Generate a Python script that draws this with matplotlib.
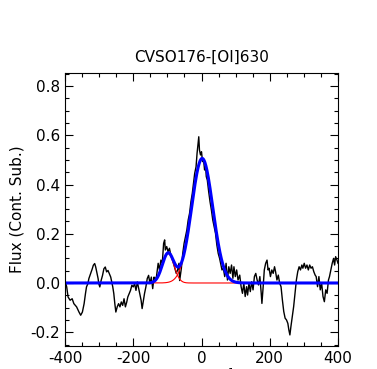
import numpy as np
import matplotlib
matplotlib.use("Agg")
import matplotlib.pyplot as plt
from matplotlib.ticker import MultipleLocator

plt.rcParams['axes.unicode_minus'] = False
plt.rcParams['font.family'] = ['DejaVu Sans']

velocity = [
    -400, -395, -391, -385, -379, -374, -366, -359, -354, -349, -344, -340, -337, -333, -330,
    -325, -320, -317, -313, -310, -307, -303, -301, -298, -294, -290, -286, -282, -278, -274,
    -270, -266, -263, -260, -257, -254, -251, -247, -243, -239, -235, -231, -227, -223, -219,
    -216, -212, -208, -204, -200, -196, -192, -188, -184, -180, -177, -174, -171, -167, -163,
    -159, -155, -151, -147, -143, -139,
    -137, -132, -127, -123, -119, -115, -111, -108, -106, -102, -98, -94, -90, -86, -82,
    -78, -74, -70, -66, -64, -59, -55, -51, -47, -43, -39, -35, -31, -27, -24, -20, -16,
    -13, -10, -8, -6, -3, 0, 3, 6, 9, 12, 14, 17, 21, 25, 29, 33, 37, 41, 45, 49, 53, 56,
    60, 64, 68, 72, 76, 80, 84, 88, 92, 95, 99, 103, 107,
    112, 116, 120, 124, 128, 132, 135, 139, 143, 147, 151, 155, 159, 163, 167, 171, 175, 177,
    180, 184, 188, 192, 195, 198, 202, 206, 210, 214, 217, 221, 225, 229, 233, 237, 241, 245,
    249, 253, 256, 259, 262, 266, 270, 274, 278, 282, 286, 290, 294, 297, 301, 305, 309, 313,
    317, 321, 325, 329, 333, 336, 340, 344, 348, 352, 356, 360, 364, 368, 372, 375, 379, 383,
    387, 390, 393, 397, 400,
]
flux = [
    0.011, -0.016, -0.057, -0.070, -0.064, -0.084, -0.097, -0.118, -0.131, -0.118, -0.084, -0.043, -0.016, -0.003, 0.018,
    0.038, 0.058, 0.072, 0.079, 0.065, 0.045, 0.018, -0.003, -0.016, 0.011, 0.031, 0.058, 0.065, 0.045, 0.051,
    0.038, 0.024, 0.004, -0.016, -0.043, -0.084, -0.118, -0.097, -0.084, -0.097, -0.077, -0.091, -0.064, -0.097, -0.077,
    -0.057, -0.043, -0.030, -0.009, -0.016, -0.003, -0.030, 0.004, -0.023, -0.050, -0.070, -0.104, -0.077, -0.043, -0.016,
    0.018, 0.031, -0.003, 0.024, -0.023, 0.024,
    0.012, 0.026, 0.080, 0.053, 0.093, 0.080, 0.161, 0.175, 0.134, 0.148, 0.127, 0.141, 0.114, 0.100, 0.080,
    0.060, 0.039, 0.053, 0.080, 0.010, 0.060, 0.120, 0.161, 0.188, 0.215, 0.256, 0.283, 0.330, 0.364, 0.398, 0.445, 0.472,
    0.527, 0.567, 0.594, 0.540, 0.520, 0.533, 0.493, 0.500, 0.459, 0.472, 0.432, 0.418, 0.371, 0.330, 0.296, 0.256, 0.229, 0.202, 0.154, 0.120, 0.100, 0.080,
    0.053, 0.060, 0.026, 0.080, 0.012, 0.066, 0.039, 0.073, 0.019, 0.066, 0.026, 0.053, 0.012,
    0.032, -0.015, -0.042, -0.001, -0.055, -0.015, -0.049, -0.001, -0.035, 0.005, -0.028, 0.026, 0.039, 0.012, -0.008, 0.026, -0.042, -0.083,
    -0.028, 0.053, 0.080, 0.093, 0.053, 0.060, 0.026, 0.053, 0.039, 0.066, 0.046, 0.012, 0.032, -0.001, -0.015, -0.069, -0.116, -0.143,
    -0.150, -0.164, -0.191, -0.211, -0.177, -0.137, -0.096, -0.042, 0.012, 0.046, 0.066, 0.053, 0.073, 0.060, 0.080, 0.060, 0.073, 0.053,
    0.073, 0.060, 0.066, 0.046, 0.032, 0.026, -0.015, 0.026, -0.028, -0.001, -0.055, -0.076, -0.028, -0.042, 0.012, 0.026, 0.053, 0.080,
    0.100, 0.073, 0.107, 0.093, 0.080,
]

# Gaussian fit components: amplitude, centre (km/s), sigma (km/s)
comp_amp = [0.506, 0.12]
comp_center = [2.0, -98.0]
comp_sigma = [31.0, 17.0]

title = "CVSO176-[OI]630"
ylabel = "Flux (Cont. Sub.)"
xlabel = r"$v$ (km s$^{-1}$)"

fig = plt.figure(figsize=(3.77, 3.69), dpi=100)
ax = fig.add_axes([0.1724, 0.0623, 0.7242, 0.7399])

ax.plot(velocity, flux, color='black', lw=1.0)

vgrid = np.linspace(-400, 400, 801)
total = np.zeros_like(vgrid)
for a, c, s in zip(comp_amp, comp_center, comp_sigma):
    g = a * np.exp(-0.5 * ((vgrid - c) / s) ** 2)
    total += g
    ax.plot(vgrid, g, color='red', lw=0.8)
ax.plot(vgrid, total, color='blue', lw=2.2)

ax.set_xlim(-400, 400)
ax.set_ylim(-0.256, 0.853)
ax.xaxis.set_major_locator(MultipleLocator(200))
ax.xaxis.set_minor_locator(MultipleLocator(50))
ax.yaxis.set_major_locator(MultipleLocator(0.2))
ax.yaxis.set_minor_locator(MultipleLocator(0.05))
ax.tick_params(which='both', direction='in', top=True, right=True, labelsize=11)
ax.tick_params(which='major', length=5.5, width=0.8)
ax.tick_params(which='minor', length=3, width=0.8)
ax.yaxis.set_major_formatter(matplotlib.ticker.FormatStrFormatter('%.1f'))

ax.set_title(title, fontsize=11, pad=8)
ax.set_ylabel(ylabel, fontsize=11)
ax.set_xlabel(xlabel, fontsize=11, labelpad=0)

fig.savefig("out.png", dpi=100)
